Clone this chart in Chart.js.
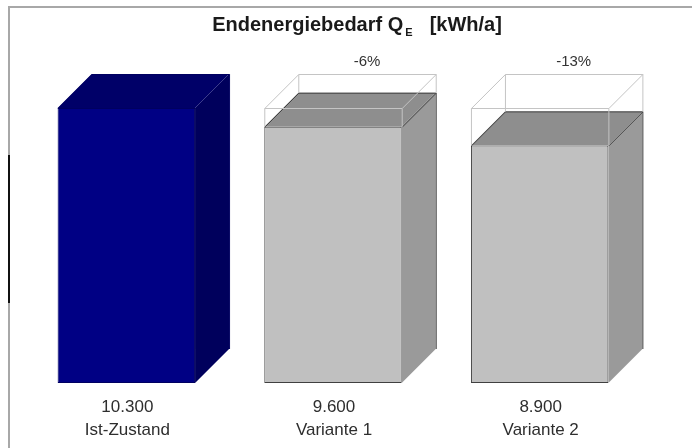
<!DOCTYPE html>
<html>
<head>
<meta charset="utf-8">
<script src="https://cdn.jsdelivr.net/npm/chart.js@4/dist/chart.umd.min.js"></script>
<style>
  html, body { margin: 0; padding: 0; background: #ffffff; }
  #c { display: block; }
</style>
</head>
<body>
<canvas id="c" width="692" height="448"></canvas>
<script>
// ---- data ----
const categories = ['Ist-Zustand', 'Variante 1', 'Variante 2'];
const values = [10300, 9600, 8900];
const valueLabels = ['10.300', '9.600', '8.900'];
const pctLabels = ['', '-6%', '-13%'];
const referenceValue = 10300;
const titleMain = 'Endenergiebedarf Q';
const titleSub = 'E';
const titleUnit = '[kWh/a]';

// ---- styles ----
const frontColors = ['#000084', '#c0c0c0', '#c0c0c0'];
const topColors = ['#000068', '#8e8e8e', '#8e8e8e'];
const sideColors = ['#00005c', '#9a9a9a', '#9a9a9a'];
const edgeColors = ['#000060', '#404040', '#404040'];
const DEPTH_X = 34, DEPTH_Y = -34;

const fontFam = '"Liberation Sans", Arial, Helvetica, sans-serif';

const threeD = {
  id: 'threeD',
  beforeDraw(chart) {
    const ctx = chart.ctx;
    ctx.save();
    ctx.fillStyle = '#ffffff';
    ctx.fillRect(0, 0, chart.width, chart.height);
    // frame
    ctx.strokeStyle = '#a8a8a8';
    ctx.lineWidth = 2;
    ctx.beginPath();
    ctx.moveTo(9, chart.height);
    ctx.lineTo(9, 7);
    ctx.lineTo(chart.width, 7);
    ctx.stroke();
    ctx.strokeStyle = '#111111';
    ctx.beginPath();
    ctx.moveTo(9, 155);
    ctx.lineTo(9, 303);
    ctx.stroke();
    // title
    ctx.fillStyle = '#1a1a1a';
    ctx.textBaseline = 'alphabetic';
    ctx.textAlign = 'left';
    ctx.font = 'bold 20px ' + fontFam;
    const w1 = ctx.measureText(titleMain).width;
    ctx.font = 'bold 11px ' + fontFam;
    const w2 = ctx.measureText(titleSub).width;
    ctx.font = 'bold 20px ' + fontFam;
    const gap = 17;
    const w3 = ctx.measureText(titleUnit).width;
    const total = w1 + 2 + w2 + gap + w3;
    let x = 357 - total / 2;
    const base = 31;
    ctx.fillText(titleMain, x, base);
    x += w1 + 2;
    ctx.font = 'bold 11px ' + fontFam;
    ctx.fillText(titleSub, x, base + 5);
    x += w2 + gap;
    ctx.font = 'bold 20px ' + fontFam;
    ctx.fillText(titleUnit, x, base);
    ctx.restore();
  },
  afterDatasetsDraw(chart) {
    const ctx = chart.ctx;
    const meta = chart.getDatasetMeta(0);
    const yScale = chart.scales.y;
    const y0 = yScale.getPixelForValue(0);
    const yRef = yScale.getPixelForValue(referenceValue);
    ctx.save();
    meta.data.forEach((bar, i) => {
      const p = bar.getProps(['x', 'y', 'width', 'base'], true);
      const xl = p.x - p.width / 2;
      const xr = p.x + p.width / 2;
      const yt = p.y;
      const yb = p.base;
      // side face
      ctx.fillStyle = sideColors[i];
      ctx.beginPath();
      ctx.moveTo(xr, yt);
      ctx.lineTo(xr + DEPTH_X, yt + DEPTH_Y);
      ctx.lineTo(xr + DEPTH_X, yb + DEPTH_Y);
      ctx.lineTo(xr, yb);
      ctx.closePath();
      ctx.fill();
      // top face
      ctx.fillStyle = topColors[i];
      ctx.beginPath();
      ctx.moveTo(xl, yt);
      ctx.lineTo(xl + DEPTH_X, yt + DEPTH_Y);
      ctx.lineTo(xr + DEPTH_X, yt + DEPTH_Y);
      ctx.lineTo(xr, yt);
      ctx.closePath();
      ctx.fill();
      // edges
      ctx.strokeStyle = edgeColors[i];
      ctx.lineWidth = 1;
      ctx.beginPath();
      ctx.moveTo(xl + 0.5, yt + 0.5);
      ctx.lineTo(xl + DEPTH_X + 0.5, yt + DEPTH_Y + 0.5);
      ctx.lineTo(xr + DEPTH_X + 0.5, yt + DEPTH_Y + 0.5);
      ctx.lineTo(xr + DEPTH_X + 0.5, yb + DEPTH_Y);
      ctx.moveTo(xr + 0.5, yt + 0.5);
      ctx.lineTo(xr + DEPTH_X + 0.5, yt + DEPTH_Y + 0.5);
      ctx.stroke();

      // ghost of reference value
      if (values[i] < referenceValue) {
        ctx.strokeStyle = '#c4c4c4';
        ctx.lineWidth = 1;
        ctx.beginPath();
        const a = 0.5;
        ctx.moveTo(xl + a, yRef + a); ctx.lineTo(xr + a, yRef + a);
        ctx.moveTo(xl + a, yRef + a); ctx.lineTo(xl + a, yt);
        ctx.moveTo(xr + a, yRef + a); ctx.lineTo(xr + a, yt);
        ctx.moveTo(xl + DEPTH_X + a, yRef + DEPTH_Y + a); ctx.lineTo(xr + DEPTH_X + a, yRef + DEPTH_Y + a);
        ctx.moveTo(xl + a, yRef + a); ctx.lineTo(xl + DEPTH_X + a, yRef + DEPTH_Y + a);
        ctx.moveTo(xr + a, yRef + a); ctx.lineTo(xr + DEPTH_X + a, yRef + DEPTH_Y + a);
        ctx.moveTo(xl + DEPTH_X + a, yRef + DEPTH_Y + a); ctx.lineTo(xl + DEPTH_X + a, yt + DEPTH_Y);
        ctx.moveTo(xr + DEPTH_X + a, yRef + DEPTH_Y + a); ctx.lineTo(xr + DEPTH_X + a, yt + DEPTH_Y);
        ctx.stroke();
      }
      // percent label
      if (pctLabels[i]) {
        ctx.fillStyle = '#333333';
        ctx.font = '15px ' + fontFam;
        ctx.textAlign = 'center';
        ctx.textBaseline = 'middle';
        ctx.fillText(pctLabels[i], p.x + DEPTH_X, yRef + DEPTH_Y - 12);
      }
      // bottom labels
      ctx.fillStyle = '#2e2e2e';
      ctx.font = '17px ' + fontFam;
      ctx.textAlign = 'center';
      ctx.textBaseline = 'middle';
      ctx.fillText(valueLabels[i], p.x + 1, y0 + 24);
      ctx.fillText(categories[i], p.x + 1, y0 + 47);
    });
    ctx.restore();
  }
};

new Chart(document.getElementById('c'), {
  type: 'bar',
  data: {
    labels: categories,
    datasets: [{
      data: values,
      backgroundColor: frontColors,
      borderColor: edgeColors,
      borderWidth: 1,
      borderSkipped: false,
      barPercentage: 1,
      categoryPercentage: 0.665
    }]
  },
  options: {
    responsive: false,
    animation: false,
    events: [],
    layout: { padding: { left: 23, right: 49, top: 108, bottom: 65 } },
    plugins: {
      legend: { display: false },
      title: { display: false },
      tooltip: { enabled: false }
    },
    scales: {
      x: { display: false },
      y: { display: false, min: 0, max: 10300 }
    }
  },
  plugins: [threeD]
});
</script>
</body>
</html>
